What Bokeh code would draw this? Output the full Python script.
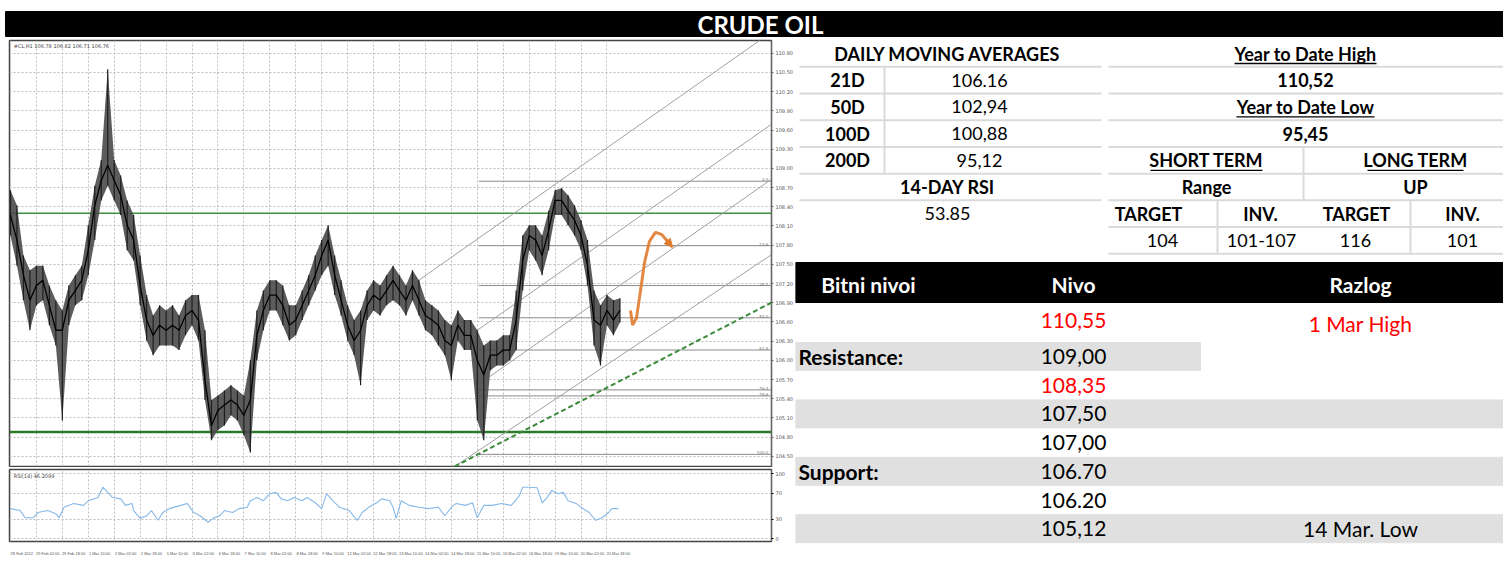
from bokeh.plotting import figure
from bokeh.layouts import column, row
from bokeh.models import (Range1d, FixedTicker, Label, ColumnDataSource, Arrow,
                          NormalHead, PrintfTickFormatter)
from bokeh.core.properties import value
from bokeh.embed import file_html
from bokeh.resources import INLINE

# ---------------------------------------------------------------- data
TITLE = "CRUDE OIL"
CHART_LABEL = "#CL,H1  106.78 106.82 106.71 106.76"
RSI_LABEL = "RSI(14) 46.2099"

DATE_HOURS = [0, 16, 32, 48, 64, 80, 96, 112, 128, 144, 160, 176, 192, 208,
              224, 240, 256, 272, 288, 304, 320, 336, 352, 368]
DATE_LABELS = ["28 Feb 2012", "29 Feb 02:00", "29 Feb 18:00", "1 Mar 10:00",
               "2 Mar 02:00", "2 Mar 18:00", "5 Mar 10:00", "6 Mar 02:00",
               "6 Mar 18:00", "7 Mar 10:00", "8 Mar 02:00", "8 Mar 18:00",
               "9 Mar 10:00", "12 Mar 02:00", "12 Mar 18:00", "13 Mar 10:00",
               "14 Mar 02:00", "14 Mar 18:00", "15 Mar 10:00", "16 Mar 02:00",
               "16 Mar 18:00", "19 Mar 10:00", "20 Mar 02:00", "20 Mar 18:00"]

PRICE_TICKS = [104.5, 104.8, 105.1, 105.4, 105.7, 106.0, 106.3, 106.6, 106.9,
               107.2, 107.5, 107.8, 108.1, 108.4, 108.7, 109.0, 109.3, 109.6,
               109.9, 110.2, 110.5, 110.8]

# 4-hour samples of the H1 chart
BAR_HOURS = list(range(0, 377, 4))
PRICE_CLOSE = [108.27, 107.88, 107.33, 106.94, 107.17, 107.25, 106.86, 106.47, 106.47, 106.94,
               107.09, 107.25, 107.72, 108.42, 108.81, 109.05, 108.81, 108.58, 108.11, 107.88,
               107.17, 106.63, 106.39, 106.55, 106.47, 106.55, 106.47, 106.70, 106.78, 106.63,
               105.69, 104.98, 105.22, 105.30, 105.38, 105.30, 105.14, 105.38, 106.39, 106.78,
               107.02, 107.02, 106.86, 106.55, 106.63, 106.86, 107.09, 107.33, 107.64, 107.88,
               107.33, 106.94, 106.55, 106.31, 106.47, 106.86, 107.02, 106.94, 107.09, 107.25,
               107.09, 106.94, 107.17, 106.94, 106.70, 106.63, 106.55, 106.31, 106.23, 106.55,
               106.39, 106.39, 106.00, 105.77, 106.08, 106.08, 106.16, 106.16, 106.63, 107.56,
               107.95, 107.88, 107.64, 108.03, 108.50, 108.50, 108.34, 108.19, 107.95, 107.48,
               106.63, 106.55, 106.78, 106.63, 106.78]
PRICE_HIGH = [108.66, 108.42, 107.64, 107.41, 107.48, 107.48, 107.17, 106.94, 106.78, 107.17,
              107.33, 107.48, 108.11, 108.73, 109.13, 110.55, 109.13, 108.89, 108.50, 108.27,
              107.64, 107.02, 106.70, 106.86, 106.78, 106.86, 106.70, 106.94, 107.02, 107.02,
              106.47, 105.38, 105.45, 105.53, 105.61, 105.53, 105.45, 106.00, 106.78, 107.09,
              107.25, 107.25, 107.17, 106.86, 106.86, 107.09, 107.33, 107.64, 107.88, 108.11,
              107.64, 107.25, 106.86, 106.63, 106.78, 107.09, 107.25, 107.17, 107.33, 107.48,
              107.33, 107.17, 107.41, 107.25, 106.94, 106.86, 106.78, 106.63, 106.55, 106.78,
              106.63, 106.63, 106.47, 106.23, 106.31, 106.31, 106.39, 106.39, 107.09, 107.95,
              108.11, 108.11, 107.95, 108.34, 108.66, 108.69, 108.58, 108.42, 108.19, 107.88,
              107.09, 106.86, 107.02, 106.94, 106.97]
PRICE_LOW = [107.95, 107.48, 106.94, 106.47, 106.86, 106.94, 106.55, 106.23, 105.06, 106.55,
             106.86, 106.94, 107.33, 107.88, 108.50, 108.73, 108.50, 108.27, 107.72, 107.56,
             106.86, 106.31, 106.08, 106.23, 106.23, 106.23, 106.16, 106.39, 106.55, 106.31,
             105.38, 104.75, 104.91, 104.98, 105.14, 105.06, 104.83, 104.56, 106.00, 106.47,
             106.78, 106.78, 106.55, 106.31, 106.39, 106.63, 106.86, 107.09, 107.33, 107.48,
             107.02, 106.70, 106.31, 106.08, 105.61, 106.63, 106.78, 106.70, 106.86, 106.94,
             106.86, 106.70, 106.94, 106.70, 106.47, 106.39, 106.23, 106.08, 105.69, 106.31,
             106.16, 106.16, 105.06, 104.75, 105.84, 105.92, 105.92, 106.00, 106.16, 107.09,
             107.72, 107.56, 107.33, 107.72, 108.27, 108.27, 108.11, 107.95, 107.72, 107.17,
             106.23, 105.92, 106.55, 106.39, 106.59]

RSI_HOURS = [0, 6, 9, 14, 17, 23, 28, 30, 33, 39, 45, 48, 54, 57, 60, 63, 68, 71, 75, 76,
             80, 84, 87, 91, 94, 98, 105, 109, 113, 117, 122, 125, 129, 132, 137, 141, 146,
             148, 152, 156, 160, 164, 167, 171, 175, 180, 183, 188, 192, 195, 199, 203, 209,
             214, 217, 221, 226, 229, 234, 236, 238, 241, 246, 252, 258, 264, 268, 272, 275,
             281, 285, 288, 292, 297, 303, 309, 314, 316, 320, 325, 328, 331, 334, 338, 341,
             344, 349, 352, 357, 361, 365, 369, 371, 375]
RSI_VALUES = [46, 43, 32, 32, 40, 43, 38, 32, 48, 54, 51, 58, 63, 79, 71, 63, 61, 51, 54, 43,
              31, 35, 43, 28, 40, 46, 51, 54, 40, 35, 25, 31, 35, 43, 40, 46, 48,
              58, 63, 58, 69, 71, 61, 58, 63, 58, 63, 55, 46, 69, 58, 48, 43,
              28, 40, 48, 55, 61, 58, 48, 31, 58, 51, 48, 46, 48, 35, 48, 54,
              51, 55, 32, 51, 51, 54, 51, 66, 79, 79, 78, 55, 63, 74, 69, 71,
              58, 54, 48, 40, 28, 32, 40, 46, 46]
RSI_TICKS = [0, 30, 70, 100]

# horizontal support / resistance lines (green)
GREEN_LEVELS = [108.30, 104.88]
CURRENT_PRICE = 106.84
# Fibonacci retracement (high -> low), drawn from FIB_START hour
FIB_HIGH, FIB_LOW = 108.80, 104.53
FIB_LEVELS = [0.0, 23.6, 38.2, 50.0, 61.8, 76.4, 78.6, 100.0]
FIB_START = 289
# channel lines: (h0, p0) -> (h1, p1)
CHANNEL_H0 = [249, 288, 288, 274]
CHANNEL_P0 = [107.20, 106.47, 105.61, 104.34]
CHANNEL_H1 = [470, 470, 470, 470]
CHANNEL_P1 = [111.14, 109.70, 108.84, 107.66]
TREND_H = [274, 470]
TREND_P = [104.34, 106.91]
# forecast path (orange)
FORECAST_H = [382.5, 383.8, 386.2, 388.7, 391.1, 394.2, 397.9, 401.6, 404.7, 408.4]
FORECAST_P = [106.78, 106.55, 106.66, 107.09, 107.52, 107.86, 108.00, 107.97, 107.88, 107.77]

# tables
MA_LABELS = ["21D", "50D", "100D", "200D"]
MA_VALUES = ["106.16", "102,94", "100,88", "95,12"]
RSI_14 = "53.85"
YTD_HIGH = "110,52"
YTD_LOW = "95,45"
TERM_HEADS = ["SHORT TERM", "LONG TERM"]
TERM_VIEWS = ["Range", "UP"]
TI_HEADS = ["TARGET", "INV.", "TARGET", "INV."]
TI_VALUES = ["104", "101-107", "116", "101"]

LEVEL_HEADS = ["Bitni nivoi", "Nivo", "Razlog"]
LEVELS = ["110,55", "109,00", "108,35", "107,50", "107,00", "106.70", "106.20", "105,12"]
LEVEL_RED = [True, False, True, False, False, False, False, False]
LEVEL_TAGS = ["", "Resistance:", "", "", "", "Support:", "", ""]
LEVEL_REASONS = ["1 Mar High", "", "", "", "", "", "", "14 Mar. Low"]

# ---------------------------------------------------------------- style
FONT = "Lato"
TINY = "DejaVu Sans"
NARROW = "Liberation Sans"
GRID = "#bdbdbd"
GREEN = "#2e7d32"
ORANGE = "#e07b2e"
XR = Range1d(-0.6, 469.5)
W_LEFT, W_RIGHT, H_TITLE, H_PRICE, H_RSI = 795, 708, 38, 429, 94


def bare(fig):
    fig.background_fill_color = "white"
    fig.border_fill_color = "white"
    fig.grid.visible = False
    fig.outline_line_color = None


# ---------------------------------------------------------------- title
title = figure(width=W_LEFT + W_RIGHT, height=H_TITLE, x_range=Range1d(0, 1503),
               y_range=Range1d(H_TITLE, 0), output_backend="svg", toolbar_location=None,
               x_axis_location=None, y_axis_location=None, min_border=0)
bare(title)
title.quad(left=[5], right=[1503], top=[11], bottom=[36], color="black")
title.text(x=[760], y=[24], text=[TITLE], text_font=value(FONT), text_font_size="24px",
           text_font_style="bold", text_color="white", text_align="center",
           text_baseline="middle")

# ---------------------------------------------------------------- price chart
price = figure(width=W_LEFT, height=H_PRICE, x_range=XR, y_range=Range1d(104.34, 111.0),
               output_backend="svg", toolbar_location=None, y_axis_location="right",
               x_axis_location=None, min_border_left=9, min_border_right=22,
               min_border_top=2, min_border_bottom=1)
price.background_fill_color = "white"
price.border_fill_color = "white"
price.outline_line_color = "#444444"
price.outline_line_width = 1.5
price.xgrid.ticker = FixedTicker(ticks=DATE_HOURS)
price.ygrid.ticker = FixedTicker(ticks=PRICE_TICKS)
price.grid.grid_line_color = GRID
price.grid.grid_line_dash = "2 2"
price.grid.grid_line_width = 1
ya = price.yaxis[0]
ya.ticker = FixedTicker(ticks=PRICE_TICKS)
ya.formatter = PrintfTickFormatter(format="%.2f")
ya.major_label_text_font = TINY
ya.major_label_text_font_size = "5px"
ya.major_label_text_color = "#555555"
ya.major_label_standoff = 2
ya.major_tick_out = 2
ya.major_tick_in = 0
ya.minor_tick_line_color = None
ya.axis_line_color = "#666666"
ya.major_tick_line_color = "#666666"

# green horizontal levels
for lvl, w, c in zip(GREEN_LEVELS, [1.6, 2.6], ["#3f8f3f", "#2a7a2a"]):
    price.line(x=[XR.start, XR.end], y=[lvl, lvl], line_color=c, line_width=w)

# Fibonacci retracement lines
fib_prices = [FIB_HIGH - (FIB_HIGH - FIB_LOW) * f / 100.0 for f in FIB_LEVELS]
price.segment(x0=[FIB_START] * len(fib_prices), y0=fib_prices,
              x1=[XR.end] * len(fib_prices), y1=fib_prices,
              line_color="#8c8c8c", line_width=1)
price.text(x=[XR.end - 2] * len(fib_prices), y=fib_prices,
           text=["%.1f" % f for f in FIB_LEVELS], text_font=value(TINY),
           text_font_size="4px", text_color="#777777", text_align="right",
           text_baseline="bottom")

# channel lines
price.segment(x0=CHANNEL_H0, y0=CHANNEL_P0, x1=CHANNEL_H1, y1=CHANNEL_P1,
              line_color="#a0a0a0", line_width=1)
price.line(x=TREND_H, y=TREND_P, line_color="#3a8a3a", line_width=2, line_dash="5 3")

# price bars
src = ColumnDataSource(dict(h=BAR_HOURS, hi=PRICE_HIGH, lo=PRICE_LOW, cl=PRICE_CLOSE))
price.varea(x="h", y1="lo", y2="hi", fill_color="#4a4a4a", fill_alpha=0.9, source=src)
price.segment(x0="h", y0="lo", x1="h", y1="hi", line_color="#1f1f1f", line_width=1.2,
              source=src)
price.line(x="h", y="cl", line_color="#000000", line_width=1.3, source=src)

# forecast path
price.line(x=FORECAST_H, y=FORECAST_P, line_color=ORANGE, line_width=3, line_alpha=0.9)
price.add_layout(Arrow(end=NormalHead(size=8, fill_color=ORANGE, line_color=ORANGE),
                       x_start=FORECAST_H[-2], y_start=FORECAST_P[-2],
                       x_end=FORECAST_H[-1], y_end=FORECAST_P[-1],
                       line_color=ORANGE, line_width=3))

price.add_layout(Label(x=2, y=110.96, text=CHART_LABEL, text_font=TINY,
                       text_font_size="5px", text_color="#444444", text_baseline="top"))
# highlighted axis labels
for lvl, bg in [(GREEN_LEVELS[0], GREEN), (CURRENT_PRICE, "#222222"), (GREEN_LEVELS[1], GREEN)]:
    price.add_layout(Label(x=XR.end + 0.5, y=lvl, text="%.2f" % lvl, text_font=TINY,
                           text_font_size="5px", text_color="white", text_baseline="middle",
                           background_fill_color=bg, x_offset=1))

# ---------------------------------------------------------------- RSI
rsi = figure(width=W_LEFT, height=H_RSI, x_range=XR, y_range=Range1d(-4.6, 106.2),
             output_backend="svg", toolbar_location=None, y_axis_location="right",
             x_axis_location="below", min_border_left=9, min_border_right=22,
             min_border_top=2, min_border_bottom=20)
rsi.background_fill_color = "white"
rsi.border_fill_color = "white"
rsi.outline_line_color = "#444444"
rsi.outline_line_width = 1.5
rsi.xgrid.ticker = FixedTicker(ticks=DATE_HOURS)
rsi.ygrid.ticker = FixedTicker(ticks=RSI_TICKS)
rsi.grid.grid_line_color = GRID
rsi.grid.grid_line_dash = "2 2"
ra = rsi.yaxis[0]
ra.ticker = FixedTicker(ticks=RSI_TICKS)
ra.major_label_text_font = TINY
ra.major_label_text_font_size = "5px"
ra.major_label_text_color = "#555555"
ra.major_label_standoff = 2
ra.major_tick_out = 2
ra.major_tick_in = 0
ra.minor_tick_line_color = None
ra.axis_line_color = "#666666"
xa = rsi.xaxis[0]
label_ticks = [h + 7 for h in DATE_HOURS]
xa.ticker = FixedTicker(ticks=label_ticks)
xa.major_label_overrides = {t: lab for t, lab in zip(label_ticks, DATE_LABELS)}
xa.major_label_text_font = NARROW
xa.major_label_text_font_size = "4px"
xa.major_label_text_color = "#555555"
xa.major_label_standoff = 3
xa.major_tick_line_color = None
xa.minor_tick_line_color = None
xa.axis_line_color = None
rsi.line(x=RSI_HOURS, y=RSI_VALUES, line_color="#86b8e8", line_width=1.1)
rsi.add_layout(Label(x=2, y=101, text=RSI_LABEL, text_font=TINY, text_font_size="5px",
                     text_color="#444444", text_baseline="top"))

# ---------------------------------------------------------------- tables
TH = H_PRICE + H_RSI
T = figure(width=W_RIGHT, height=TH, x_range=Range1d(0, W_RIGHT), y_range=Range1d(TH, 0),
           output_backend="svg", toolbar_location=None,
           x_axis_location=None, y_axis_location=None, min_border=0)
bare(T)


def txt(xs, ys, texts, size, bold=False, color="black", align="center"):
    T.text(x=xs, y=ys, text=texts, text_font=value(FONT), text_font_size=size,
           text_font_style="bold" if bold else "normal", text_color=color,
           text_align=align, text_baseline="middle")


SEP = "#dadada"
Y0, R = 15.0, 26.7
rows_y = [Y0 + R * i for i in range(8)]
UP = "18px"
LO = "21px"

# separators upper tables
left_b = [rows_y[i] + R / 2 for i in range(6)]
T.segment(x0=[4] * 6, y0=left_b, x1=[306] * 6, y1=left_b, line_color=SEP, line_width=2)
right_b = [rows_y[i] + R / 2 for i in range(8)]
T.segment(x0=[313] * 8, y0=right_b, x1=[W_RIGHT] * 8, y1=right_b, line_color=SEP, line_width=2)
T.segment(x0=[89, 508, 422, 615], y0=[left_b[0], right_b[3], right_b[5], right_b[5]],
          x1=[89, 508, 422, 615], y1=[left_b[4], right_b[5], right_b[7], right_b[7]],
          line_color=SEP, line_width=2)

# left table
txt([152], [rows_y[0]], ["DAILY MOVING AVERAGES"], UP, bold=True)
txt([52] * 4, rows_y[1:5], MA_LABELS, UP, bold=True)
txt([184] * 4, rows_y[1:5], MA_VALUES, UP)
txt([152], [rows_y[5]], ["14-DAY RSI"], UP, bold=True)
txt([152], [rows_y[6]], [RSI_14], UP)

# right table
txt([510, 510, 510, 510], rows_y[0:4],
    ["Year to Date High", YTD_HIGH, "Year to Date Low", YTD_LOW], UP, bold=True)
txt([411, 620], [rows_y[4]] * 2, TERM_HEADS, UP, bold=True)
txt([411, 620], [rows_y[5]] * 2, TERM_VIEWS, UP, bold=True)
txt([353, 465, 561, 667], [rows_y[6]] * 4, TI_HEADS, UP, bold=True)
txt([367, 466, 560, 667], [rows_y[7]] * 4, TI_VALUES, UP)
# underlines
ul_c = [510, 510, 411, 620]
ul_w = [142, 138, 112, 96]
ul_y = [rows_y[0] + 10, rows_y[2] + 10, rows_y[4] + 10, rows_y[4] + 10]
T.segment(x0=[c - w / 2 for c, w in zip(ul_c, ul_w)], y0=ul_y,
          x1=[c + w / 2 for c, w in zip(ul_c, ul_w)], y1=ul_y,
          line_color="black", line_width=1.3)

# lower table
T.quad(left=[0], right=[W_RIGHT], top=[224], bottom=[264], color="black")
txt([73, 278, 565], [246] * 3, LEVEL_HEADS, LO, bold=True, color="white")
lvl_y = [282] + [318 + 28.7 * i for i in range(7)]
band_rows = [1, 3, 5, 7]
T.quad(left=[0] * 4, right=[405, W_RIGHT, W_RIGHT, W_RIGHT],
       top=[lvl_y[i] - 14 for i in band_rows], bottom=[lvl_y[i] + 14 for i in band_rows],
       color="#e0e0e0")
for y, s, red in zip(lvl_y, LEVELS, LEVEL_RED):
    txt([278], [y], [s], LO, color="#ff0000" if red else "black")
for y, s in zip(lvl_y, LEVEL_TAGS):
    if s:
        txt([3], [y], [s], LO, bold=True, align="left")
for i, (y, s) in enumerate(zip(lvl_y, LEVEL_REASONS)):
    if s:
        txt([565], [y + (3 if i == 0 else 0)], [s], LO,
            color="#ff0000" if LEVEL_RED[i] else "black")

layout = column(title, row(column(price, rsi), T))
open("out.html", "w").write(file_html(layout, INLINE))
